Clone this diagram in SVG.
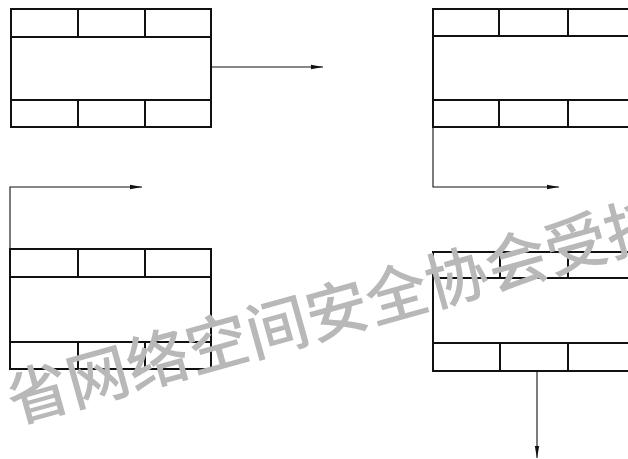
<svg xmlns="http://www.w3.org/2000/svg" width="628" height="459" viewBox="0 0 628 459">
<style>
.box{fill:none;stroke:#111;stroke-width:2}
.cell{stroke:#111;stroke-width:2;fill:none}
.conn{fill:none;stroke:#111;stroke-width:1.1}
.wm{font-family:"Noto Sans CJK SC","Noto Sans",sans-serif;font-size:62px;font-weight:500;fill:#b8b8b8}
</style>
<defs>
<marker id="ah" markerWidth="12" markerHeight="6" refX="12" refY="3" orient="auto" markerUnits="userSpaceOnUse">
<path d="M0,0.8 L12,3 L0,5.2 Z" fill="#111"/>
</marker>
</defs>
<rect width="628" height="459" fill="#fff"/>
<g id="block1">
<rect class="box" x="11" y="9" width="200" height="118"/>
<path class="cell" d="M11,37H211M11,100H211M78,9V37M145,9V37M78,100V127M145,100V127"/>
</g>
<g id="block2">
<path class="box" d="M640,9H433V127H640"/>
<path class="cell" d="M433,36H640M433,100H640M499,9V36M568,9V36M499,100V127M568,100V127"/>
</g>
<g id="block3">
<rect class="box" x="10" y="249" width="201" height="120"/>
<path class="cell" d="M10,277H211M10,342H211M78,249V277M145,249V277M78,342V369M145,342V369"/>
</g>
<g id="block4">
<path class="box" d="M640,252H433V371H640"/>
<path class="cell" d="M433,278H640M433,343H640M500,252V278M568,252V278M500,343V371M568,343V371"/>
</g>
<g id="connectors">
<path class="conn" d="M211,67H323" marker-end="url(#ah)"/>
<path class="conn" d="M433,127V187H559" marker-end="url(#ah)"/>
<path class="conn" d="M10,249V187H142" marker-end="url(#ah)"/>
<path class="conn" d="M537,371V458" marker-end="url(#ah)"/>
</g>
<text class="wm" transform="translate(38,393) rotate(-15.5)" x="-31" y="23">省网络空间安全协会受托</text>
</svg>
